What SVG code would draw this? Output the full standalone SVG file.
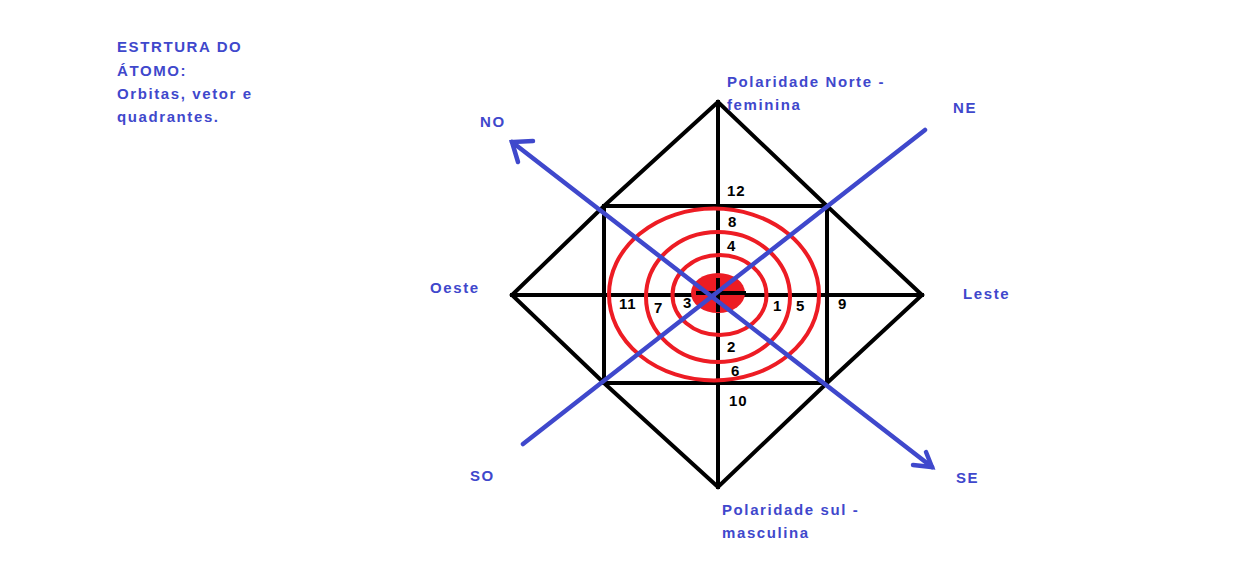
<svg xmlns="http://www.w3.org/2000/svg" width="1236" height="586" viewBox="0 0 1236 586">
<style>
.bl{stroke:#000;stroke-width:4;fill:none;stroke-linecap:square}
.rd{stroke:#ED1C24;stroke-width:4;fill:none}
.bu{stroke:#3F48CC;stroke-width:4.5;fill:none;stroke-linecap:round}
.t{font-family:"Liberation Sans",Arial,sans-serif;font-weight:bold;font-size:15px;fill:#3F48CC;letter-spacing:1.6px}
.n{font-family:"Liberation Sans",Arial,sans-serif;font-weight:bold;font-size:15px;fill:#000;letter-spacing:0.8px}
</style>
<rect width="1236" height="586" fill="#fff"/>
<g id="title">
<text class="t" x="117" y="52">ESTRTURA DO</text>
<text class="t" x="117" y="76">ÁTOMO:</text>
<text class="t" x="117" y="99">Orbitas, vetor e</text>
<text class="t" x="117" y="122">quadrantes.</text>
</g>
<g id="frame">
<path class="bl" d="M718,102 L604,206 L512,295 L604,383 L718,487 L827,383 L922,295 L827,206 Z"/>
<rect class="bl" x="604" y="206" width="223" height="177"/>
<line class="bl" x1="718" y1="102" x2="718" y2="487"/>
<line class="bl" x1="512" y1="295" x2="922" y2="295"/>
</g>
<g id="orbits">
<ellipse class="rd" cx="714" cy="294.5" rx="105" ry="86"/>
<ellipse class="rd" cx="718" cy="297" rx="72" ry="65"/>
<ellipse class="rd" cx="719.5" cy="295" rx="47" ry="40"/>
<ellipse cx="718" cy="293" rx="27" ry="20" fill="#ED1C24"/>
<line class="bl" x1="698" y1="293" x2="744" y2="293"/>
<line class="bl" x1="718" y1="280" x2="718" y2="310"/>
</g>
<g id="numbers">
<text class="n" x="727" y="196">12</text>
<text class="n" x="728" y="227">8</text>
<text class="n" x="727" y="251">4</text>
<text class="n" x="619" y="309">11</text>
<text class="n" x="654" y="313">7</text>
<text class="n" x="683" y="308">3</text>
<text class="n" x="773" y="311">1</text>
<text class="n" x="796" y="311">5</text>
<text class="n" x="838" y="309">9</text>
<text class="n" x="727" y="352">2</text>
<text class="n" x="731" y="376">6</text>
<text class="n" x="729" y="406">10</text>
</g>
<g id="connectors">
<line class="bu" x1="512" y1="142" x2="932" y2="467"/>
<polyline class="bu" points="533,141 512,142 518,162"/>
<polyline class="bu" points="913,465 932,467 926,452"/>
<line class="bu" x1="523" y1="444" x2="925" y2="130"/>
</g>
<g id="labels">
<text class="t" x="727" y="87">Polaridade Norte -</text>
<text class="t" x="727" y="110">feminina</text>
<text class="t" x="480" y="127">NO</text>
<text class="t" x="953" y="113">NE</text>
<text class="t" x="430" y="293">Oeste</text>
<text class="t" x="963" y="299">Leste</text>
<text class="t" x="470" y="481">SO</text>
<text class="t" x="956" y="483">SE</text>
<text class="t" x="722" y="515">Polaridade sul -</text>
<text class="t" x="722" y="538">masculina</text>
</g>
</svg>
